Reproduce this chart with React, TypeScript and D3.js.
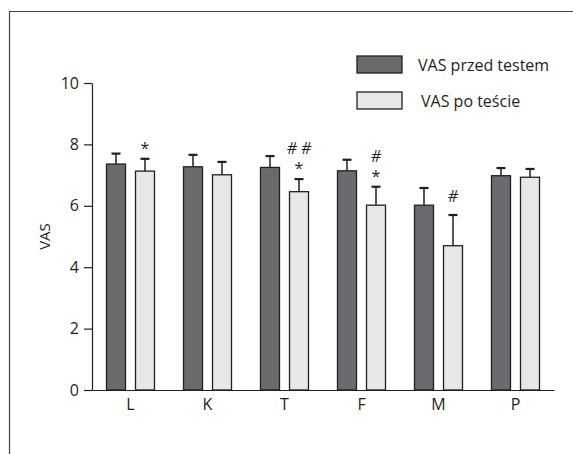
import { useEffect, useRef } from "react";
import * as d3 from "d3";

const W = 573;
const H = 454;

// VAS means before / after the test, with SD (upper whisker only)
const categories = ["L", "K", "T", "F", "M", "P"];
const series = ["VAS przed testem", "VAS po teście"];
const before = [7.36, 7.27, 7.25, 7.14, 6.02, 6.98];
const beforeErr = [0.34, 0.39, 0.37, 0.36, 0.56, 0.25];
const after = [7.13, 7.01, 6.46, 6.02, 4.7, 6.93];
const afterErr = [0.4, 0.42, 0.41, 0.6, 1.0, 0.27];
// significance marks above the "after" bars (top line first)
const afterMarks = [["*"], [], ["# #", "*"], ["#", "*"], ["#"], []];
const yTicks = [0, 2, 4, 6, 8, 10];

const COLORS = ["#6b6b6f", "#e6e7e8"];
const INK = "#231f20";
const FONT = "'Open Sans', 'DejaVu Sans', sans-serif";

const BarChart = () => {
  const svgRef = useRef<SVGSVGElement>(null);

  useEffect(() => {
    const svg = d3.select(svgRef.current);
    svg.selectAll("*").remove();

    // frame (only top and left edges are visible in the crop)
    svg
      .append("path")
      .attr("d", `M9.5,${H} V11.5 H${W}`)
      .attr("fill", "none")
      .attr("stroke", "#444")
      .attr("stroke-width", 1.2);

    const x = d3.scaleBand().domain(categories).range([92, 554]).padding(0);
    const xi = d3
      .scaleBand()
      .domain(series)
      .range([0, x.bandwidth()])
      .paddingInner(0.345)
      .paddingOuter(0.5);
    const y = d3.scaleLinear().domain([0, 10]).range([390, 83]);

    // y axis
    const yAxis = d3
      .axisLeft(y)
      .tickValues(yTicks)
      .tickSize(8)
      .tickSizeOuter(0)
      .tickPadding(5);
    const gy = svg.append("g").attr("transform", "translate(92,0)").call(yAxis);
    gy.selectAll("path, line").attr("stroke", INK).attr("stroke-width", 1.2);
    gy.selectAll("text")
      .attr("fill", INK)
      .style("font-family", FONT)
      .style("font-size", "16px");

    // x axis baseline
    const xAxis = d3.axisBottom(x).tickSize(0).tickSizeOuter(0).tickPadding(9);
    const gx = svg.append("g").attr("transform", "translate(0,390)").call(xAxis);
    gx.select(".domain").attr("stroke", INK).attr("stroke-width", 1.2);
    gx.selectAll("text")
      .attr("fill", INK)
      .style("font-family", FONT)
      .style("font-size", "16px");

    // y label
    svg
      .append("text")
      .attr("transform", `translate(50,${y(5)}) rotate(-90)`)
      .attr("text-anchor", "middle")
      .attr("fill", INK)
      .style("font-family", FONT)
      .style("font-size", "15px")
      .text("VAS");

    const rows = categories.map((c, i) => [
      { c, s: series[0], v: before[i], e: beforeErr[i], k: 0, marks: [] as string[] },
      { c, s: series[1], v: after[i], e: afterErr[i], k: 1, marks: afterMarks[i] },
    ]).flat();

    const g = svg.append("g");
    const cx = (d) => x(d.c) + xi(d.s) + xi.bandwidth() / 2;

    // error bars (drawn first so the bar covers the stem)
    g.selectAll(".err")
      .data(rows)
      .join("line")
      .attr("x1", cx)
      .attr("x2", cx)
      .attr("y1", (d) => y(d.v))
      .attr("y2", (d) => y(d.v + d.e))
      .attr("stroke", INK)
      .attr("stroke-width", 1.5);
    g.selectAll(".cap")
      .data(rows)
      .join("line")
      .attr("x1", (d) => cx(d) - 4.5)
      .attr("x2", (d) => cx(d) + 4.5)
      .attr("y1", (d) => y(d.v + d.e))
      .attr("y2", (d) => y(d.v + d.e))
      .attr("stroke", INK)
      .attr("stroke-width", 2.2);

    g.selectAll(".bar")
      .data(rows)
      .join("rect")
      .attr("x", (d) => x(d.c) + xi(d.s))
      .attr("y", (d) => y(d.v))
      .attr("width", xi.bandwidth())
      .attr("height", (d) => y(0) - y(d.v))
      .attr("fill", (d) => COLORS[d.k])
      .attr("stroke", INK)
      .attr("stroke-width", 1.3);

    // significance marks
    rows.forEach((d) => {
      const n = d.marks.length;
      d.marks.forEach((m, j) => {
        const isStar = m === "*";
        const top = y(d.v + d.e);
        const above = (n - 1 - j) * 12;
        svg
          .append("text")
          .attr("x", cx(d))
          .attr("y", top - (isStar ? 5 : 13) - above)
          .attr("text-anchor", "middle")
          .attr("fill", INK)
          .style("font-family", FONT)
          .style("font-size", "16px")
          .style("font-style", isStar ? "normal" : "italic")
          .text(m);
      });
    });

    // legend
    const lg = svg.append("g");
    series.forEach((s, i) => {
      const ly = 56 + i * 36;
      lg.append("rect")
        .attr("x", 357)
        .attr("y", ly)
        .attr("width", 45)
        .attr("height", 17)
        .attr("fill", COLORS[i])
        .attr("stroke", INK)
        .attr("stroke-width", 1.3);
      lg.append("text")
        .attr("x", i === 0 ? 418 : 421)
        .attr("y", ly + 9)
        .attr("dy", "0.35em")
        .attr("fill", INK)
        .style("font-family", FONT)
        .style("font-size", "16px")
        .text(s);
    });
  }, []);

  return (
    <svg
      ref={svgRef}
      width={W}
      height={H}
      style={{ position: "absolute", left: 0, top: 0, background: "#fff" }}
    ></svg>
  );
};

export default function App() {
  return <BarChart />;
}
